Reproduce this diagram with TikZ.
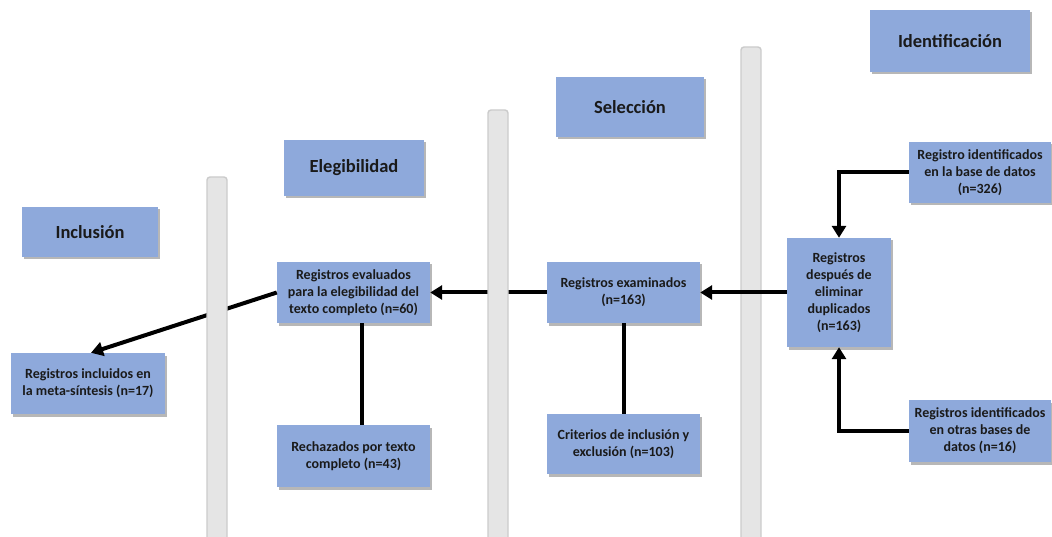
\documentclass[tikz,border=0pt]{standalone}
\usepackage{fontspec}
\setmainfont{Carlito}
\usetikzlibrary{arrows.meta,shadows}
\definecolor{boxblue}{HTML}{8EA9DB}
\definecolor{barfill}{HTML}{E5E5E5}
\definecolor{baredge}{HTML}{CBCBCB}
\definecolor{txt}{HTML}{1A1A1A}
\tikzset{
  box/.style={draw=none, fill=boxblue, text=txt, align=center, inner sep=2pt,
    font=\fontsize{14}{17}\selectfont\bfseries,
    drop shadow={shadow xshift=1.5pt, shadow yshift=-2.5pt, fill=black!40, opacity=0.7}},
  head/.style={box, font=\fontsize{18.5}{21}\selectfont\bfseries},
  bar/.style={fill=barfill, draw=baredge, line width=1.4pt, rounded corners=3pt},
  arr/.style={line width=4pt, -{Triangle[length=12pt,width=14pt]}},
  link/.style={line width=4pt}
}
\begin{document}
\begin{tikzpicture}[x=1pt,y=-1pt]
\useasboundingbox (0,0) rectangle (1052,537);
% phase headers
\node[head, minimum width=160pt, minimum height=62pt] (ident) at (950,41) {Identificación};
\node[head, minimum width=148pt, minimum height=60pt] (selec) at (630,107) {Selección};
\node[head, minimum width=140pt, minimum height=56pt] (eleg) at (354,168) {Elegibilidad};
\node[head, minimum width=136pt, minimum height=50pt] (incl) at (90,232) {Inclusión};
% bar behind the right arrow
\path[bar] (741,47) rectangle (761,545);
% flow boxes
\node[box, minimum width=142pt, minimum height=61pt] (base) at (980,172.5) {Registro identificados\\en la base de datos\\(n=326)};
\node[box, minimum width=104pt, minimum height=109pt] (desp) at (839,292.5) {Registros\\después de\\eliminar\\duplicados\\(n=163)};
\node[box, minimum width=142pt, minimum height=62pt] (otras) at (980,431) {Registros identificados\\en otras bases de\\datos (n=16)};
\node[box, minimum width=153pt, minimum height=61pt] (exam) at (623.5,292.5) {Registros examinados\\(n=163)};
\node[box, minimum width=153pt, minimum height=60pt] (crit) at (623.5,444) {Criterios de inclusión y\\exclusión (n=103)};
\node[box, minimum width=153pt, minimum height=61pt] (eval) at (353.5,292.5) {Registros evaluados\\para la elegibilidad del\\texto completo (n=60)};
\node[box, minimum width=153pt, minimum height=62pt] (rech) at (353.5,456) {Rechazados por texto\\completo (n=43)};
\node[box, minimum width=154pt, minimum height=61pt] (inclu) at (88,383.5) {Registros incluidos en\\la meta-síntesis (n=17)};
% connectors
\draw[arr] (base.west) -| (desp.north);
\draw[arr] (otras.west) -| (desp.south);
\draw[arr] (desp.west) -- (exam.east);
\draw[arr] (exam.west) -- (eval.east);
\draw[arr] (eval.west) -- ([xshift=3pt]inclu.north);
\draw[link] (exam.south) -- (crit.north);
\draw[link] ([xshift=8.5pt]eval.south) -- ([xshift=8.5pt]rech.north);
% bars in front of the left arrows
\path[bar] (207,177) rectangle (227,545);
\path[bar] (488,110) rectangle (508,545);
\end{tikzpicture}
\end{document}
